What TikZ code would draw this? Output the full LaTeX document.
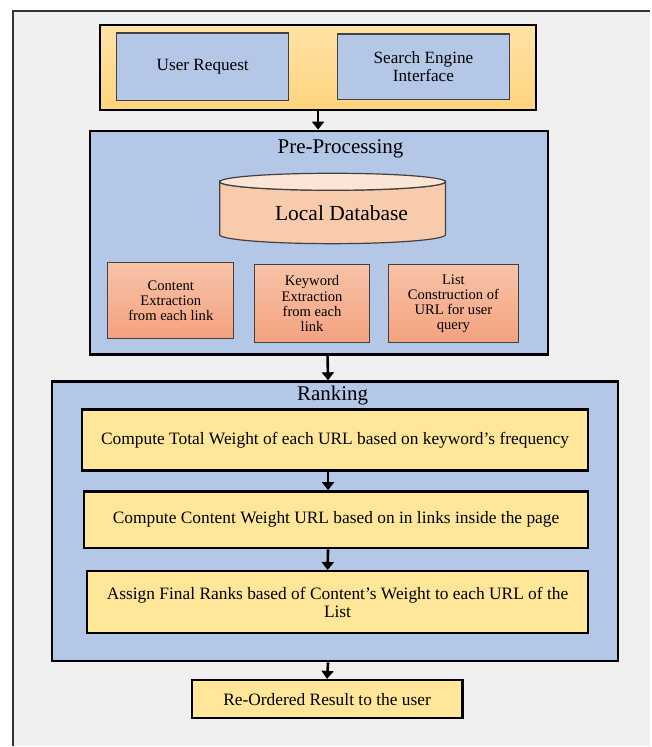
\documentclass[tikz,border=0pt]{standalone}
\usepackage{fontspec}
\setmainfont{Liberation Serif}
\usepackage{tikz,xcolor}
\usetikzlibrary{arrows.meta,shadings}

\definecolor{pagegray}{HTML}{F0F0F0}
\definecolor{paleblue}{HTML}{B4C7E7}
\definecolor{paleyellow}{HTML}{FFE699}
\definecolor{goldtop}{HTML}{FFE3A6}
\definecolor{goldbot}{HTML}{FFD47E}
\definecolor{salmontop}{HTML}{F7C3A8}
\definecolor{salmonbot}{HTML}{F4A27F}
\definecolor{dbbody}{HTML}{F8CBAD}
\definecolor{dbtop}{HTML}{FBE5D6}

\tikzset{
  stage/.style={draw=black,line width=2.4pt,inner sep=0pt},
  inputbox/.style={draw=black!75,line width=1.2pt,fill=paleblue,inner sep=0pt,
    align=center,font=\fontsize{17.2}{18}\selectfont},
  prepbox/.style={draw=black!75,line width=1.2pt,top color=salmontop,bottom color=salmonbot,
    inner sep=0pt,align=center,font=\fontsize{14.6}{15.2}\selectfont},
  rankbox/.style={draw=black,line width=2.4pt,fill=paleyellow,inner sep=0pt,
    align=center,font=\fontsize{17.4}{18}\selectfont},
  titletext/.style={font=\fontsize{21}{22}\selectfont},
  flow/.style={line width=2.6pt,-{Triangle[width=12pt,length=8pt]}},
}

\begin{document}
\begin{tikzpicture}[x=1pt,y=-1pt]
  % page
  \fill[white] (0,0) rectangle (651,747);
  \fill[pagegray] (13,11) rectangle (651,747);
  \draw[black!80,line width=2pt] (13,747) -- (13,11) -- (651,11);
  \useasboundingbox (0,0) rectangle (651,747);

  % request
  \node[stage,top color=goldtop,bottom color=goldbot,minimum width=437pt,minimum height=85pt] (req) at (318.5,67.5) {};
  \node[inputbox,minimum width=172pt,minimum height=68pt] (user) at (203,67) {User Request};
  \node[inputbox,minimum width=172pt,minimum height=66pt] (engine) at (424,67) {Search Engine\\Interface};

  % pre-processing
  \node[stage,fill=paleblue,minimum width=459pt,minimum height=224pt] (prep) at (319.5,243) {};
  \node[titletext] (preptitle) at (341,149) {Pre-Processing};
  \fill[dbbody,draw=black!75,line width=1.2pt] (220,182) -- (220,235)
    arc[start angle=180,end angle=0,x radius=113,y radius=9] -- (446,182)
    arc[start angle=0,end angle=180,x radius=113,y radius=8.5] -- cycle;
  \filldraw[fill=dbtop,draw=black!75,line width=1.2pt] (333,182) ellipse [x radius=113,y radius=8.5];
  \node[font=\fontsize{21.5}{22}\selectfont] (db) at (342,213) {Local Database};
  \node[prepbox,minimum width=126pt,minimum height=76pt] (content) at (171,301) {Content\\Extraction\\from each link};
  \node[prepbox,minimum width=115pt,minimum height=78pt] (keyword) at (312.5,304) {Keyword\\Extraction\\from each\\link};
  \node[prepbox,minimum width=130pt,minimum height=78pt] (urllist) at (454,304) {List\\Construction of\\URL for user\\query};

  % ranking
  \node[stage,fill=paleblue,minimum width=567pt,minimum height=280pt] (rank) at (335.5,522) {};
  \node[titletext] (ranktitle) at (333,396) {Ranking};
  \node[rankbox,minimum width=507pt,minimum height=61pt] (total) at (335.5,440.5) {Compute Total Weight of each URL based on keyword's frequency};
  \node[rankbox,minimum width=505pt,minimum height=57pt] (inlinks) at (336.5,520.5) {Compute Content Weight URL based on in links inside the page};
  \node[rankbox,minimum width=502pt,minimum height=62pt] (final) at (338,603) {Assign Final Ranks based of Content's Weight to each URL of the\\List};

  % output
  \node[rankbox,minimum width=271pt,minimum height=38pt] (result) at (327.5,700) {Re-Ordered Result to the user};

  \draw[flow] (req.south) -- (req.south |- prep.north);
  \draw[flow] ([xshift=8.5pt]prep.south) -- ([xshift=-7pt]rank.north);
  \draw[flow] ([xshift=-7pt]total.south) -- ([xshift=-8pt]inlinks.north);
  \draw[flow] ([xshift=-8pt]inlinks.south) -- ([xshift=-10pt]final.north);
  \draw[flow] ([xshift=-7pt]rank.south) -- (result.north);
\end{tikzpicture}
\end{document}
